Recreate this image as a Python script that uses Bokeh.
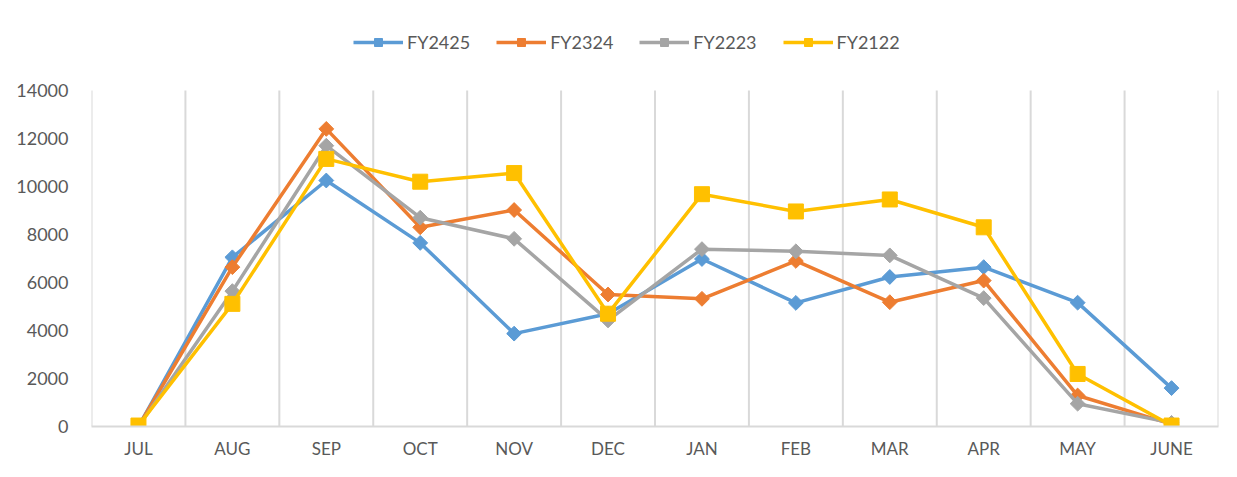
from bokeh.plotting import figure
from bokeh.models import Range1d, FixedTicker, Legend, LegendItem
from bokeh.embed import file_html
from bokeh.resources import INLINE
import math

months = ["JUL", "AUG", "SEP", "OCT", "NOV", "DEC", "JAN", "FEB", "MAR", "APR", "MAY", "JUNE"]
fy2425 = [0, 7050, 10250, 7650, 3870, 4700, 6980, 5150, 6230, 6640, 5160, 1600]
fy2324 = [0, 6640, 12400, 8300, 9020, 5500, 5320, 6900, 5180, 6080, 1290, 100]
fy2223 = [0, 5640, 11700, 8700, 7820, 4420, 7390, 7300, 7130, 5350, 950, 150]
fy2122 = [40, 5110, 11150, 10200, 10560, 4700, 9680, 8960, 9460, 8300, 2190, 40]
y_ticks = [0, 2000, 4000, 6000, 8000, 10000, 12000, 14000]

series = [
    ("FY2425", fy2425, "#5B9BD5", "diamond"),
    ("FY2324", fy2324, "#ED7D31", "diamond"),
    ("FY2223", fy2223, "#A5A5A5", "diamond"),
    ("FY2122", fy2122, "#FFC000", "square"),
]

FONT = "Lato"
TXT = "#595959"
GRID = "#D9D9D9"

y_max = y_ticks[-1]
# frame extends above the data area to host the legend (426 px frame, 336 px for 0..14000)
y_top = y_max * 426 / 336

p = figure(width=1221, height=461, output_backend="svg", toolbar_location=None,
           x_range=Range1d(0, len(months)), y_range=Range1d(0, y_top),
           min_border_left=91, min_border_right=3, min_border_top=0, min_border_bottom=35)
p.outline_line_color = None
p.background_fill_color = "white"
p.border_fill_color = "white"

xs = [i + 0.5 for i in range(len(months))]

# vertical gridlines at category boundaries, spanning the value axis only
bounds = list(range(0, len(months) + 1))
p.segment(x0=bounds, y0=[0] * len(bounds), x1=bounds, y1=[y_max] * len(bounds),
          line_color=GRID, line_width=2)

items = []
for name, vals, color, mk in series:
    ln = p.line(xs, vals, line_color=color, line_width=3.5)
    if mk == "diamond":
        sc = p.scatter(xs, vals, marker="square", size=10.5, angle=math.pi / 4,
                       fill_color=color, line_color=color)
    else:
        sc = p.scatter(xs, vals, marker="square", size=15, fill_color=color, line_color=color)
    items.append(LegendItem(label=name, renderers=[ln, sc]))

# x axis
p.xaxis.ticker = FixedTicker(ticks=xs)
p.xaxis.major_label_overrides = {x: m for x, m in zip(xs, months)}
p.xaxis.axis_line_color = GRID
p.xaxis.axis_line_width = 2
p.xaxis.major_tick_line_color = None
p.xaxis.minor_tick_line_color = None
p.xaxis.major_label_text_font = FONT
p.xaxis.major_label_text_font_size = "17px"
p.xaxis.major_label_text_color = TXT
p.xaxis.major_label_standoff = 5

# y axis
p.yaxis.ticker = FixedTicker(ticks=y_ticks)
p.yaxis.axis_line_color = None
p.yaxis.major_tick_line_color = None
p.yaxis.minor_tick_line_color = None
p.yaxis.major_label_text_font = FONT
p.yaxis.major_label_text_font_size = "18px"
p.yaxis.major_label_text_color = TXT
p.yaxis.major_label_standoff = 17

p.xgrid.grid_line_color = None
p.ygrid.grid_line_color = None

legend = Legend(items=items, orientation="horizontal", location=(262, 373),
                label_text_font=FONT, label_text_font_size="18px", label_text_color=TXT,
                glyph_width=50, glyph_height=20, label_standoff=4, spacing=26,
                padding=0, margin=0, border_line_color=None, background_fill_alpha=0)
p.add_layout(legend)

open("out.html", "w").write(file_html(p, INLINE))
